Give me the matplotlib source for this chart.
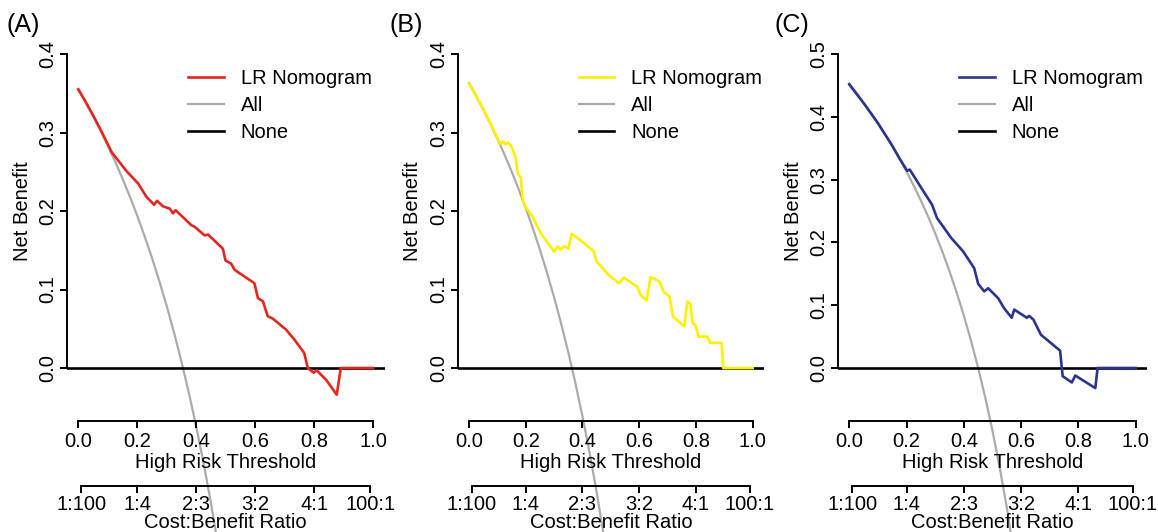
import matplotlib
matplotlib.use('Agg')
import matplotlib.pyplot as plt
from matplotlib.ticker import FormatStrFormatter
import numpy as np

plt.rcParams['font.family'] = ['Liberation Sans', 'DejaVu Sans']

# ---------------- data ----------------
panel_letters = ['(A)', '(B)', '(C)']
series_labels = ['LR Nomogram', 'All', 'None']
model_colors = ['#E5261F', '#FFF000', '#2B3590']
all_color = '#ABABAB'
none_color = '#000000'

threshold_ticks = [0.0, 0.2, 0.4, 0.6, 0.8, 1.0]
cb_cost = [1, 1, 2, 3, 4, 100]
cb_benefit = [100, 4, 3, 2, 1, 1]
cb_labels = ['1:100', '1:4', '2:3', '3:2', '4:1', '100:1']

# Panel A
A_t = [0.0, 0.025, 0.05, 0.075, 0.10, 0.113, 0.163, 0.203, 0.231, 0.257,
       0.267, 0.287, 0.310, 0.321, 0.330, 0.383, 0.394, 0.428, 0.440, 0.490,
       0.499, 0.518, 0.530, 0.597, 0.609, 0.626, 0.642, 0.659, 0.704, 0.733,
       0.766, 0.778, 0.798, 0.808, 0.840, 0.876, 0.890, 1.0]
A_nb = [0.355, 0.339, 0.322, 0.304, 0.285, 0.275, 0.251, 0.235, 0.218, 0.208,
        0.213, 0.206, 0.203, 0.197, 0.201, 0.182, 0.180, 0.169, 0.170, 0.152,
        0.137, 0.133, 0.125, 0.108, 0.089, 0.085, 0.066, 0.063, 0.049, 0.036,
        0.019, 0.000, -0.006, -0.003, -0.015, -0.034, 0.000, 0.000]
A_all_t = [0.0, 0.025, 0.05, 0.075, 0.10, 0.125, 0.15, 0.175, 0.20, 0.225,
           0.25, 0.275, 0.30, 0.325, 0.35, 0.375, 0.40, 0.425, 0.45, 0.475, 0.50]
A_all_nb = [0.355, 0.3385, 0.3211, 0.3027, 0.2833, 0.2629, 0.2412, 0.2182, 0.1938,
            0.1677, 0.140, 0.1103, 0.0786, 0.0444, 0.0077, -0.032, -0.075, -0.1217,
            -0.1727, -0.2286, -0.290]

# Panel B
B_t = [0.0, 0.025, 0.05, 0.075, 0.10, 0.112, 0.120, 0.128, 0.138, 0.149,
       0.163, 0.173, 0.182, 0.190, 0.196, 0.225, 0.254, 0.301, 0.313, 0.322,
       0.336, 0.350, 0.362, 0.406, 0.439, 0.451, 0.494, 0.529, 0.546, 0.593,
       0.605, 0.626, 0.640, 0.672, 0.686, 0.707, 0.719, 0.759, 0.770, 0.780,
       0.788, 0.798, 0.809, 0.840, 0.850, 0.891, 0.896, 1.0]
B_nb = [0.362, 0.347, 0.330, 0.312, 0.293, 0.285, 0.289, 0.285, 0.287, 0.283,
        0.270, 0.247, 0.243, 0.213, 0.207, 0.192, 0.171, 0.148, 0.155, 0.151,
        0.155, 0.152, 0.171, 0.159, 0.149, 0.135, 0.118, 0.108, 0.115, 0.1035,
        0.093, 0.086, 0.116, 0.110, 0.097, 0.091, 0.0655, 0.053, 0.0845, 0.082,
        0.057, 0.055, 0.040, 0.040, 0.032, 0.032, 0.0, 0.0]
B_all_t = [0.0, 0.025, 0.05, 0.075, 0.10, 0.125, 0.15, 0.175, 0.20, 0.225,
           0.25, 0.275, 0.30, 0.325, 0.35, 0.375, 0.40, 0.425, 0.45, 0.475, 0.50]
B_all_nb = [0.363, 0.3467, 0.3295, 0.3114, 0.2922, 0.2720, 0.2506, 0.2279, 0.2038,
            0.1781, 0.1507, 0.1214, 0.0900, 0.0563, 0.0200, -0.0192, -0.0617,
            -0.1078, -0.1582, -0.2133, -0.274]

# Panel C
C_t = [0.0, 0.025, 0.05, 0.075, 0.10, 0.125, 0.15, 0.175, 0.202, 0.211,
       0.251, 0.289, 0.306, 0.356, 0.397, 0.436, 0.450, 0.471, 0.485, 0.520,
       0.540, 0.567, 0.576, 0.620, 0.628, 0.643, 0.669, 0.736, 0.745, 0.777,
       0.789, 0.859, 0.867, 1.0]
C_nb = [0.452, 0.437, 0.422, 0.406, 0.390, 0.372, 0.354, 0.334, 0.314, 0.316,
        0.287, 0.260, 0.239, 0.207, 0.186, 0.159, 0.134, 0.122, 0.127, 0.111,
        0.0955, 0.080, 0.093, 0.080, 0.083, 0.077, 0.053, 0.0276, -0.013, -0.023,
        -0.012, -0.032, 0.0, 0.0]
C_all_t = [0.0, 0.025, 0.05, 0.075, 0.10, 0.125, 0.15, 0.175, 0.20, 0.225,
           0.25, 0.275, 0.30, 0.325, 0.35, 0.375, 0.40, 0.425, 0.45, 0.475,
           0.50, 0.525, 0.55, 0.575, 0.60]
C_all_nb = [0.45, 0.4359, 0.4211, 0.4054, 0.3889, 0.3714, 0.3529, 0.3333, 0.3125,
            0.2903, 0.2667, 0.2414, 0.2143, 0.1852, 0.1538, 0.120, 0.0833, 0.0435,
            0.0, -0.0476, -0.100, -0.1579, -0.2222, -0.2941, -0.375]

y_max = [0.4, 0.4, 0.5]

# ---------------- layout (pixels) ----------------
W, H = 1158, 532
fig = plt.figure(figsize=(W / 100, H / 100), dpi=100)


def fx(p):
    return p / W


def fy(p):
    return 1 - p / H


# per-panel: pixel of t=0, px per unit t, pixel of NB=0, px per unit NB
geom = [(78.3, 295.0, 368.0, 785.0),
        (469.0, 283.7, 368.0, 785.0),
        (849.3, 286.4, 368.0, 628.0)]
letter_x = [7, 390, 774]

models = [(A_t, A_nb, A_all_t, A_all_nb),
          (B_t, B_nb, B_all_t, B_all_nb),
          (C_t, C_nb, C_all_t, C_all_nb)]

cb_pos = [c / (c + b) for c, b in zip(cb_cost, cb_benefit)]

LW_AX = 1.4
FS = 14.5

for i in range(3):
    t0, sx, y0, sy = geom[i]
    ymax = y_max[i]
    mt, mnb, at, anb = models[i]
    xl = (-0.04, 1.04)
    ylo, yhi = -0.07, ymax + 0.02
    left = t0 + xl[0] * sx
    width = (xl[1] - xl[0]) * sx
    top_px = y0 - yhi * sy
    bot_px = y0 - ylo * sy
    ax = fig.add_axes([fx(left), fy(bot_px), width / W, (bot_px - top_px) / H])
    ax.set_xlim(xl)
    ax.set_ylim(ylo, yhi)
    ax.patch.set_visible(False)
    for s in ['top', 'right', 'bottom']:
        ax.spines[s].set_visible(False)
    ax.spines['left'].set_bounds(0, ymax)
    ax.spines['left'].set_linewidth(LW_AX)
    ax.set_xticks([])
    ax.set_yticks(np.round(np.arange(0, ymax + 0.001, 0.1), 1))
    ax.yaxis.set_major_formatter(FormatStrFormatter('%.1f'))
    ax.tick_params(axis='y', direction='out', length=5, width=LW_AX,
                   labelsize=FS, pad=2)
    plt.setp(ax.get_yticklabels(), rotation=90, va='center')

    ax.plot(at, anb, color=all_color, lw=1.6, clip_on=False, zorder=2,
            label=series_labels[1])
    ax.axhline(0, color=none_color, lw=1.9, zorder=3, label=series_labels[2])
    ax.plot(mt, mnb, color=model_colors[i], lw=1.9, zorder=4,
            label=series_labels[0])

    handles, labels = ax.get_legend_handles_labels()
    order = [labels.index(l) for l in series_labels]
    ax.legend([handles[k] for k in order], [labels[k] for k in order],
              loc='upper left',
              bbox_to_anchor=(fx(t0 + 110), fy(69)),
              bbox_transform=fig.transFigure,
              frameon=False, fontsize=FS, handlelength=1.75,
              handletextpad=0.85, labelspacing=0.4, borderpad=0,
              borderaxespad=0)

    ax.set_ylabel('Net Benefit', fontsize=FS)
    ax.yaxis.set_label_coords(fx(t0 - 56), fy(211), transform=fig.transFigure)
    ax.yaxis.label.set_va('center')

    fig.text(fx(letter_x[i]), fy(25), panel_letters[i], fontsize=18,
             ha='left', va='center')

    # threshold axis
    axt = fig.add_axes([fx(left), fy(421.0), width / W, 0.0005])
    axt.set_xlim(xl)
    axt.patch.set_visible(False)
    for s in ['top', 'right', 'left']:
        axt.spines[s].set_visible(False)
    axt.spines['bottom'].set_bounds(threshold_ticks[0], threshold_ticks[-1])
    axt.spines['bottom'].set_linewidth(LW_AX)
    axt.set_yticks([])
    axt.set_xticks(threshold_ticks)
    axt.xaxis.set_major_formatter(FormatStrFormatter('%.1f'))
    axt.tick_params(axis='x', direction='out', length=5, width=LW_AX,
                    labelsize=FS, pad=3)
    axt.set_xlabel('High Risk Threshold', fontsize=FS)
    axt.xaxis.set_label_coords(fx(t0 + 0.5 * sx), fy(462),
                               transform=fig.transFigure)
    axt.xaxis.label.set_va('center')

    # cost:benefit axis
    axc = fig.add_axes([fx(left), fy(486.0), width / W, 0.0005])
    axc.set_xlim(xl)
    axc.patch.set_visible(False)
    for s in ['top', 'right', 'left']:
        axc.spines[s].set_visible(False)
    axc.spines['bottom'].set_bounds(cb_pos[0], cb_pos[-1])
    axc.spines['bottom'].set_linewidth(LW_AX)
    axc.set_yticks([])
    axc.set_xticks(cb_pos)
    axc.set_xticklabels(cb_labels)
    axc.tick_params(axis='x', direction='out', length=5, width=LW_AX,
                    labelsize=FS, pad=1.5)
    axc.set_xlabel('Cost:Benefit Ratio', fontsize=FS)
    axc.xaxis.set_label_coords(fx(t0 + 0.5 * sx), fy(522),
                               transform=fig.transFigure)
    axc.xaxis.label.set_va('center')

fig.savefig('out.png', dpi=100)
